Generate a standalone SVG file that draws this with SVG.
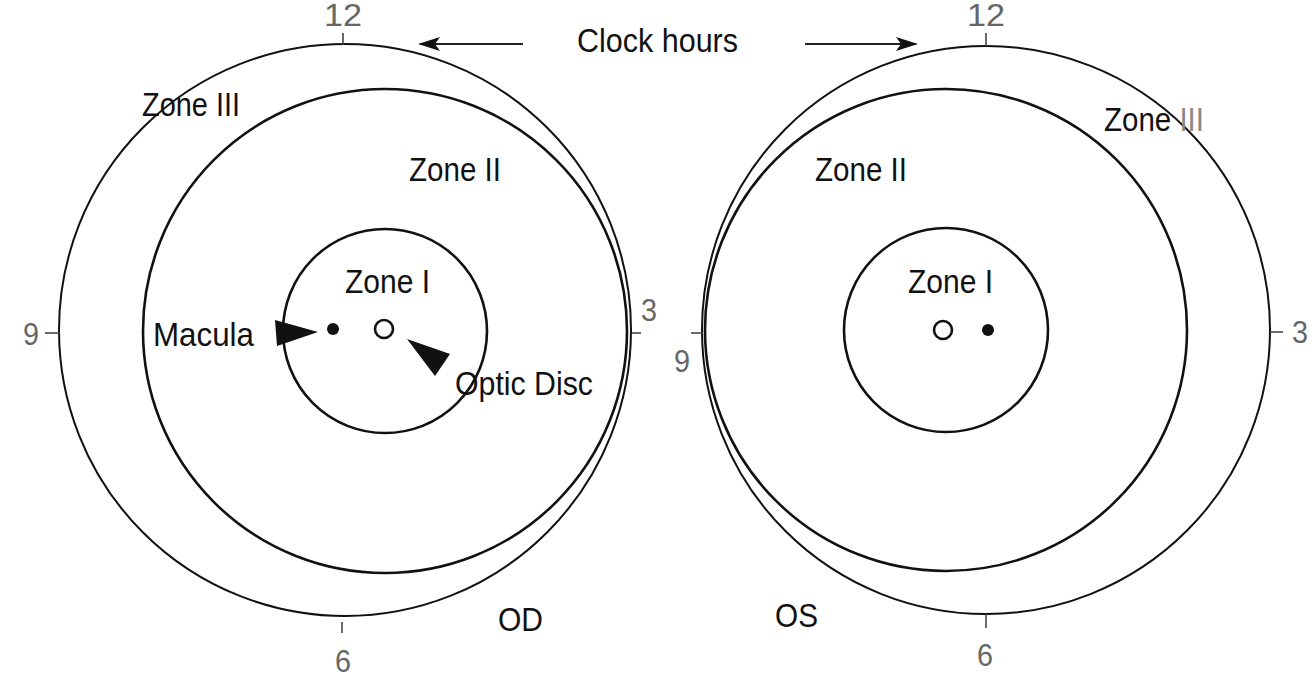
<svg xmlns="http://www.w3.org/2000/svg" width="1314" height="683" viewBox="0 0 1314 683">
<style>
.bg{fill:#fff}
.outer{fill:none;stroke:#111;stroke-width:2}
.zone{fill:none;stroke:#111;stroke-width:2.6}
.tick{stroke:#444;stroke-width:1.6}
.lbl{font-family:"Liberation Sans",Arial,sans-serif;font-size:34px;fill:#111}
.num{font-family:"Liberation Sans",Arial,sans-serif;font-size:32px;fill:#666}
.conn{stroke:#222;stroke-width:1.8;fill:none}
.head{fill:#111}
</style>
<defs>
<marker id="ah" markerWidth="22" markerHeight="14" refX="20" refY="7" orient="auto" markerUnits="userSpaceOnUse">
<path d="M0,0 L22,7 L0,14 L5,7 Z" fill="#111"/>
</marker>
</defs>
<rect class="bg" width="1314" height="683"/>

<g id="od-eye">
<circle class="outer" cx="345" cy="330" r="286"/>
<circle class="zone" cx="385" cy="331" r="242"/>
<circle class="zone" cx="385" cy="331" r="102"/>
<line class="tick" x1="343" y1="33" x2="343" y2="45"/>
<line class="tick" x1="45" y1="333" x2="60" y2="333"/>
<line class="tick" x1="632" y1="333" x2="641" y2="333"/>
<line class="tick" x1="342" y1="622" x2="342" y2="633"/>
<text class="num" x="343" y="26" text-anchor="middle" textLength="38" lengthAdjust="spacingAndGlyphs">12</text>
<text class="num" x="23" y="345" textLength="16" lengthAdjust="spacingAndGlyphs">9</text>
<text class="num" x="641" y="321" textLength="16" lengthAdjust="spacingAndGlyphs">3</text>
<text class="num" x="335" y="672" textLength="16" lengthAdjust="spacingAndGlyphs">6</text>
</g>

<g id="od-macula">
<circle cx="333" cy="329" r="6" fill="#111"/>
<path class="head" d="M318,332 L275,320 L277,346 Z"/>
<text class="lbl" x="153" y="346" textLength="101" lengthAdjust="spacingAndGlyphs">Macula</text>
</g>

<g id="od-disc">
<circle cx="384" cy="329" r="9" fill="none" stroke="#111" stroke-width="2.6"/>
<path class="head" d="M407,339 L450,354 L435,376 Z"/>
<text class="lbl" x="455" y="395" textLength="138" lengthAdjust="spacingAndGlyphs">Optic Disc</text>
</g>

<g id="od-labels">
<text class="lbl" x="142" y="116" textLength="98" lengthAdjust="spacingAndGlyphs" fill="#222">Zone III</text>
<text class="lbl" x="409" y="181" textLength="92" lengthAdjust="spacingAndGlyphs">Zone II</text>
<text class="lbl" x="345" y="293" textLength="85" lengthAdjust="spacingAndGlyphs">Zone I</text>
<text class="lbl" x="498" y="631" textLength="45" lengthAdjust="spacingAndGlyphs">OD</text>
</g>

<g id="os-eye">
<circle class="outer" cx="986" cy="330" r="284"/>
<circle class="zone" cx="946" cy="330" r="241"/>
<circle class="zone" cx="946" cy="330" r="102"/>
<circle cx="943" cy="330" r="9" fill="none" stroke="#111" stroke-width="2.6"/>
<circle cx="988" cy="330" r="6" fill="#111"/>
<line class="tick" x1="986" y1="33" x2="986" y2="46"/>
<line class="tick" x1="691" y1="333" x2="703" y2="333"/>
<line class="tick" x1="1270" y1="332" x2="1283" y2="332"/>
<line class="tick" x1="986" y1="614" x2="986" y2="628"/>
<text class="num" x="986" y="26" text-anchor="middle" textLength="38" lengthAdjust="spacingAndGlyphs">12</text>
<text class="num" x="674" y="372" textLength="16" lengthAdjust="spacingAndGlyphs">9</text>
<text class="num" x="1292" y="343" textLength="16" lengthAdjust="spacingAndGlyphs">3</text>
<text class="num" x="977" y="666" textLength="16" lengthAdjust="spacingAndGlyphs">6</text>
</g>

<g id="os-labels">
<text class="lbl" x="815" y="181" textLength="92" lengthAdjust="spacingAndGlyphs">Zone II</text>
<text class="lbl" x="908" y="293" textLength="85" lengthAdjust="spacingAndGlyphs">Zone I</text>
<text class="lbl" x="1104" y="131" textLength="100" lengthAdjust="spacingAndGlyphs">Zone <tspan fill="#888">III</tspan></text>
<text class="lbl" x="775" y="627" textLength="43" lengthAdjust="spacingAndGlyphs">OS</text>
</g>

<g id="clock-hours">
<text class="lbl" x="577" y="52" textLength="161" lengthAdjust="spacingAndGlyphs">Clock hours</text>
</g>

<g id="connectors">
<line class="conn" x1="523" y1="44" x2="420" y2="44" marker-end="url(#ah)"/>
<line class="conn" x1="805" y1="44" x2="916" y2="44" marker-end="url(#ah)"/>
</g>
</svg>
